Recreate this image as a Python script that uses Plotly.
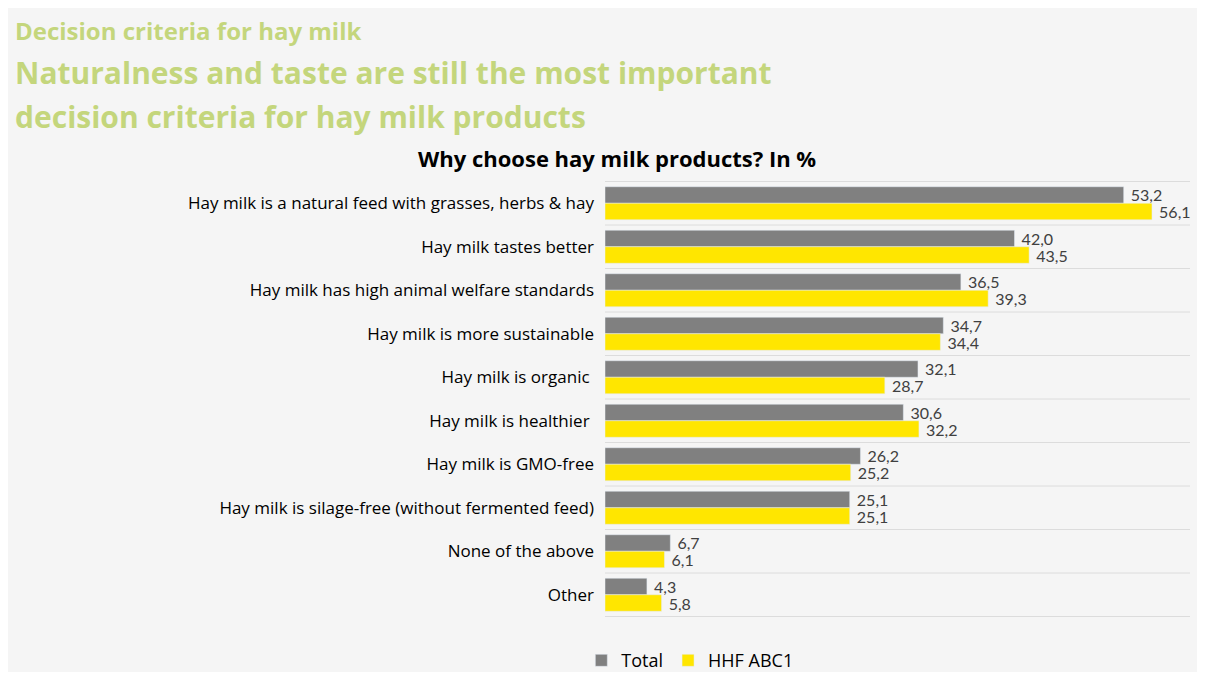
import plotly.graph_objects as go

categories = [
    "Hay milk is a natural feed with grasses, herbs & hay",
    "Hay milk tastes better",
    "Hay milk has high animal welfare standards",
    "Hay milk is more sustainable",
    "Hay milk is organic ",
    "Hay milk is healthier ",
    "Hay milk is GMO-free",
    "Hay milk is silage-free (without fermented feed)",
    "None of the above",
    "Other",
]
total = [53.2, 42.0, 36.5, 34.7, 32.1, 30.6, 26.2, 25.1, 6.7, 4.3]
hhf_abc1 = [56.1, 43.5, 39.3, 34.4, 28.7, 32.2, 25.2, 25.1, 6.1, 5.8]

GREEN = "#c4d67c"
LABEL_FONT = "Open Sans"
VALUE_FONT = "Lato"


def fmt(v):
    # comma decimals, with a small gap before the number
    return "\u00a0" + f"{v:.1f}".replace(".", ",")


fig = go.Figure()
fig.add_trace(go.Bar(
    y=categories, x=total, name="Total", orientation="h",
    marker_color="#808080", text=[fmt(v) for v in total],
    textposition="outside", cliponaxis=False, constraintext="none",
    textfont=dict(family=VALUE_FONT, size=16, color="#404040"),
))
fig.add_trace(go.Bar(
    y=categories, x=hhf_abc1, name="HHF ABC1", orientation="h",
    marker_color="#ffe600", text=[fmt(v) for v in hhf_abc1],
    textposition="outside", cliponaxis=False, constraintext="none",
    textfont=dict(family=VALUE_FONT, size=16, color="#404040"),
))

# faint separators between the category rows
for i in range(len(categories) + 1):
    fig.add_shape(type="line", xref="paper", yref="y", x0=0, x1=1,
                  y0=i - 0.5, y1=i - 0.5, line=dict(color="#dcdcdc", width=1),
                  layer="below")

fig.add_annotation(text="<b>Decision criteria for hay milk</b>", xref="paper", yref="paper",
                   x=-1.012, y=1.346, xanchor="left", yanchor="middle", showarrow=False,
                   font=dict(family=LABEL_FONT, size=24, color=GREEN))
fig.add_annotation(text="<b>Naturalness and taste are still the most important</b>",
                   xref="paper", yref="paper", x=-1.012, y=1.248, xanchor="left",
                   yanchor="middle", showarrow=False,
                   font=dict(family=LABEL_FONT, size=30, color=GREEN))
fig.add_annotation(text="<b>decision criteria for hay milk products</b>",
                   xref="paper", yref="paper", x=-1.012, y=1.147, xanchor="left",
                   yanchor="middle", showarrow=False,
                   font=dict(family=LABEL_FONT, size=30, color=GREEN))
fig.add_annotation(text="<b>Why choose hay milk products? In %</b>", xref="paper", yref="paper",
                   x=0.0205, y=1.053, xanchor="center", yanchor="middle", showarrow=False,
                   font=dict(family=LABEL_FONT, size=22, color="#000000"))

fig.update_layout(
    width=1189, height=664,
    margin=dict(l=597, r=7, t=173, b=55, autoexpand=False),
    paper_bgcolor="#f5f5f5", plot_bgcolor="rgba(0,0,0,0)",
    barmode="group", bargap=0.24, bargroupgap=0.0,
    showlegend=True,
    legend=dict(orientation="h", x=0.145, xanchor="center", y=-0.1, yanchor="middle",
                font=dict(family=LABEL_FONT, size=18, color="#000000"),
                itemwidth=30, bgcolor="rgba(0,0,0,0)"),
    xaxis=dict(range=[0, 60], visible=False),
    yaxis=dict(autorange="reversed", showgrid=False, zeroline=False, showline=False,
               ticks="", ticklabelstandoff=10,
               tickfont=dict(family=LABEL_FONT, size=17, color="#000000")),
)

fig.write_html("out.html")
